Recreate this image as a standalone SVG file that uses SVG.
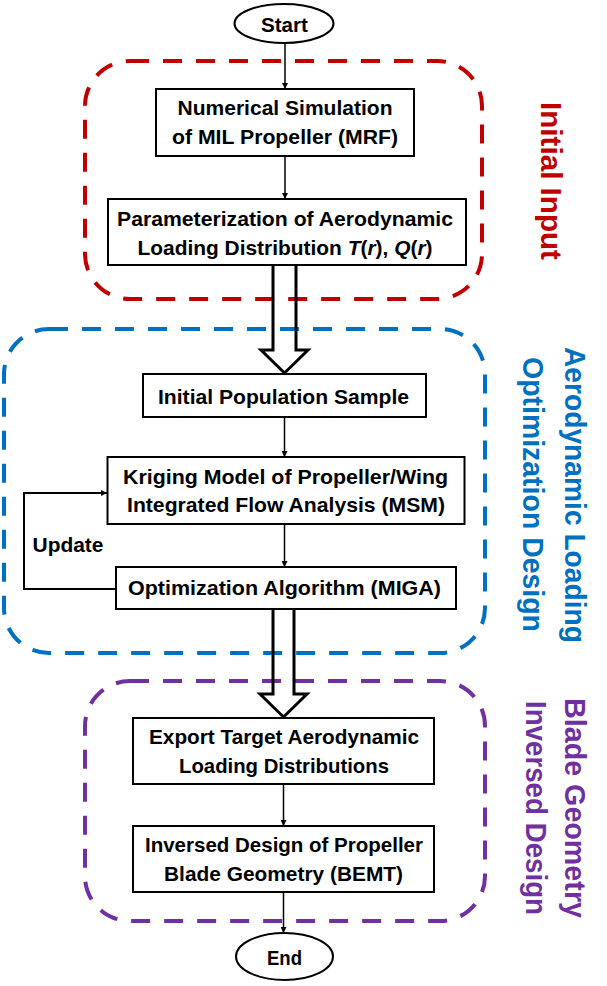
<svg xmlns="http://www.w3.org/2000/svg" width="607" height="986" viewBox="0 0 607 986">
<style>
.bg{fill:#ffffff}
.box{fill:#ffffff;stroke:#000000;stroke-width:2}
.term{fill:#ffffff;stroke:#000000;stroke-width:2}
.t{font-family:"Liberation Sans",Arial,sans-serif;font-weight:bold;font-size:21px;fill:#000000;text-anchor:middle}
.lbl{font-family:"Liberation Sans",Arial,sans-serif;font-weight:bold;font-size:29px;text-anchor:middle}
.grp{fill:none;stroke-width:4;stroke-dasharray:19 14}
.conn{fill:none;stroke:#000000;stroke-width:1.5}
.big{fill:none;stroke:#000000;stroke-width:3;stroke-linejoin:miter}
</style>
<defs>
<marker id="ah" markerWidth="6" markerHeight="6" refX="6" refY="3" orient="auto" markerUnits="userSpaceOnUse">
<path d="M0,0 L6,3 L0,6 z" fill="#000000"/>
</marker>
</defs>
<rect class="bg" x="0" y="0" width="607" height="986"/>

<g id="group-initial-input">
<rect class="grp" x="85" y="61" width="397" height="238" rx="45" ry="45" stroke="#C00000"/>
<text class="lbl" fill="#C00000" transform="translate(541,181) rotate(90)" textLength="158" lengthAdjust="spacingAndGlyphs">Initial Input</text>
</g>
<g id="group-optimization">
<rect class="grp" x="4" y="329" width="481" height="324" rx="45" ry="45" stroke="#0070C0"/>
<text class="lbl" fill="#0070C0" transform="translate(565,495) rotate(90)" textLength="296" lengthAdjust="spacingAndGlyphs">Aerodynamic Loading</text>
<text class="lbl" fill="#0070C0" transform="translate(523,494.5) rotate(90)" textLength="275" lengthAdjust="spacingAndGlyphs">Optimization Design</text>
</g>
<g id="group-inverse">
<rect class="grp" x="85" y="681" width="400" height="240" rx="45" ry="45" stroke="#7030A0"/>
<text class="lbl" fill="#7030A0" transform="translate(565,808) rotate(90)" textLength="220" lengthAdjust="spacingAndGlyphs">Blade Geometry</text>
<text class="lbl" fill="#7030A0" transform="translate(526,808) rotate(90)" textLength="214" lengthAdjust="spacingAndGlyphs">Inversed Design</text>
</g>

<g id="connectors">
<line class="conn" x1="285" y1="43" x2="285" y2="89" marker-end="url(#ah)"/>
<line class="conn" x1="285" y1="156" x2="285" y2="199" marker-end="url(#ah)"/>
<polyline class="big" points="273,265 273,350 261,350 284.5,373 308,350 296,350 296,265"/>
<line class="conn" x1="284.5" y1="417" x2="284.5" y2="457" marker-end="url(#ah)"/>
<line class="conn" x1="284.5" y1="524" x2="284.5" y2="567" marker-end="url(#ah)"/>
<polyline class="conn" style="stroke-width:2" points="116,589 24,589 24,493 107,493" marker-end="url(#ah)"/>
<text class="t" x="68" y="552" textLength="71" lengthAdjust="spacingAndGlyphs">Update</text>
<polyline class="big" points="273,609 273,694 260,694 283.5,717 307,694 294,694 294,609"/>
<line class="conn" x1="283.5" y1="784" x2="283.5" y2="826" marker-end="url(#ah)"/>
<line class="conn" x1="283.5" y1="892" x2="283.5" y2="933" marker-end="url(#ah)"/>
</g>

<g id="node-start">
<ellipse class="term" cx="284" cy="23.5" rx="49.5" ry="19.5"/>
<text class="t" x="284.5" y="32" textLength="47" lengthAdjust="spacingAndGlyphs">Start</text>
</g>
<g id="node-numerical">
<rect class="box" x="156" y="89" width="258" height="67"/>
<text class="t" x="285" y="115" textLength="215" lengthAdjust="spacingAndGlyphs">Numerical Simulation</text>
<text class="t" x="285" y="144" textLength="226" lengthAdjust="spacingAndGlyphs">of MIL Propeller (MRF)</text>
</g>
<g id="node-param">
<rect class="box" x="108" y="199" width="358" height="66"/>
<text class="t" x="285" y="226" textLength="336" lengthAdjust="spacingAndGlyphs">Parameterization of Aerodynamic</text>
<text class="t" x="285" y="255" textLength="295" lengthAdjust="spacingAndGlyphs">Loading Distribution <tspan font-style="italic">T</tspan>(<tspan font-style="italic">r</tspan>), <tspan font-style="italic">Q</tspan>(<tspan font-style="italic">r</tspan>)</text>
</g>
<g id="node-initial-pop">
<rect class="box" x="143" y="374" width="283" height="43"/>
<text class="t" x="283.5" y="404" textLength="251" lengthAdjust="spacingAndGlyphs">Initial Population Sample</text>
</g>
<g id="node-kriging">
<rect class="box" x="107.5" y="457" width="357" height="67"/>
<text class="t" x="285.5" y="484" textLength="325" lengthAdjust="spacingAndGlyphs">Kriging Model of Propeller/Wing</text>
<text class="t" x="286" y="512" textLength="318" lengthAdjust="spacingAndGlyphs">Integrated Flow Analysis (MSM)</text>
</g>
<g id="node-miga">
<rect class="box" x="116" y="567" width="340" height="42"/>
<text class="t" x="284.5" y="595" textLength="313" lengthAdjust="spacingAndGlyphs">Optimization Algorithm (MIGA)</text>
</g>
<g id="node-export">
<rect class="box" x="133" y="718" width="301" height="66"/>
<text class="t" x="284" y="744" textLength="270" lengthAdjust="spacingAndGlyphs">Export Target Aerodynamic</text>
<text class="t" x="284" y="773" textLength="210" lengthAdjust="spacingAndGlyphs">Loading Distributions</text>
</g>
<g id="node-inverse">
<rect class="box" x="133" y="826" width="301" height="66"/>
<text class="t" x="284" y="852" textLength="278" lengthAdjust="spacingAndGlyphs">Inversed Design of Propeller</text>
<text class="t" x="283.5" y="881" textLength="239" lengthAdjust="spacingAndGlyphs">Blade Geometry (BEMT)</text>
</g>
<g id="node-end">
<ellipse class="term" cx="284.5" cy="956.5" rx="48.5" ry="23.5"/>
<text class="t" x="284.5" y="965" textLength="35" lengthAdjust="spacingAndGlyphs">End</text>
</g>
</svg>
